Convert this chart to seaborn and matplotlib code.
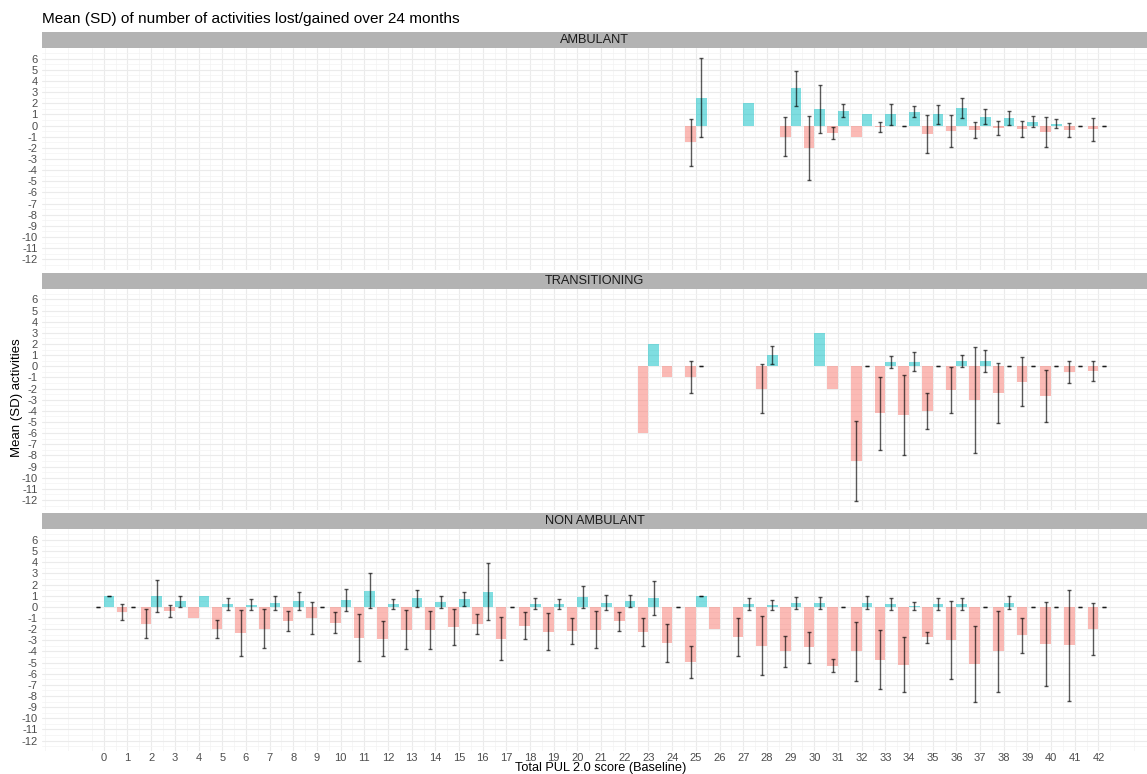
import numpy as np
import pandas as pd
import matplotlib
matplotlib.use("Agg")
import matplotlib.pyplot as plt
import seaborn as sns
from matplotlib.patches import Rectangle
from matplotlib.ticker import FixedLocator

nan = np.nan

groups = ["AMBULANT", "TRANSITIONING", "NON AMBULANT"]

# ---- AMBULANT ----
amb_score = [25, 27, 29, 30, 31, 32, 33, 34, 35, 36, 37, 38, 39, 40, 41, 42]
amb_lost_mean = [-1.5, nan, -1.0, -2.0, -0.67, -1.0, -0.15, 0.0, -0.78, -0.5, -0.38, -0.21, -0.3, -0.6, -0.42, -0.35]
amb_lost_sd = [2.1, nan, 1.75, 2.84, 0.58, nan, 0.43, 0.0, 1.7, 1.45, 0.73, 0.63, 0.72, 1.33, 0.61, 1.06]
amb_gain_mean = [2.5, 2.0, 3.33, 1.5, 1.33, 1.0, 1.0, 1.25, 1.0, 1.58, 0.78, 0.72, 0.36, 0.18, 0.0, 0.0]
amb_gain_sd = [3.55, nan, 1.53, 2.14, 0.6, nan, 0.94, 0.5, 0.82, 0.9, 0.67, 0.63, 0.5, 0.4, 0.0, 0.0]

# ---- TRANSITIONING ----
tra_score = [23, 24, 25, 28, 30, 31, 32, 33, 34, 35, 36, 37, 38, 39, 40, 41, 42]
tra_lost_mean = [-6.0, -1.0, -1.0, -2.0, nan, -2.0, -8.5, -4.21, -4.4, -4.0, -2.15, -3.0, -2.4, -1.4, -2.65, -0.5, -0.4]
tra_lost_sd = [nan, nan, 1.43, 2.17, nan, nan, 3.55, 3.28, 3.6, 1.64, 2.05, 4.76, 2.72, 2.21, 2.31, 1.01, 0.91]
tra_gain_mean = [2.0, nan, 0.0, 1.0, 3.0, nan, 0.0, 0.39, 0.39, 0.0, 0.48, 0.48, 0.0, 0.0, 0.0, 0.0, 0.0]
tra_gain_sd = [nan, nan, 0.0, 0.82, nan, nan, 0.0, 0.57, 0.85, 0.0, 0.57, 1.01, 0.0, 0.0, 0.0, 0.0, 0.0]

# ---- NON AMBULANT ----
non_score = list(range(0, 43))
non_lost_mean = [0.0, -0.48, -1.5, -0.35, -1.0, -2.0, -2.38, -1.97, -1.23, -1.0,
                 -1.41, -2.75, -2.84, -2.04, -2.09, -1.8, -1.53, -2.85, -1.67, -2.24,
                 -2.17, -2.06, -1.31, -2.23, -3.23, -4.98, -2.0, -2.72, -3.47, -4.0,
                 -3.64, -5.28, -4.0, -4.73, -5.18, -2.73, -2.98, -5.13, -3.98, -2.56,
                 -3.35, -3.46, -1.98]
non_lost_sd = [0.0, 0.73, 1.3, 0.52, nan, 0.82, 2.07, 1.75, 0.9, 1.43,
               0.97, 2.1, 1.55, 1.75, 1.7, 1.64, 0.88, 1.9, 1.25, 1.67,
               1.18, 1.66, 0.84, 1.27, 1.72, 1.43, nan, 1.73, 2.61, 1.42,
               1.37, 0.57, 2.67, 2.66, 2.49, 0.52, 3.48, 3.43, 3.63, 1.54,
               3.79, 4.96, 2.33]
non_gain_mean = [1.0, 0.0, 1.0, 0.5, 1.0, 0.27, 0.21, 0.36, 0.53, 0.0,
                 0.6, 1.47, 0.27, 0.76, 0.45, 0.75, 1.35, 0.0, 0.3, 0.24,
                 0.9, 0.39, 0.52, 0.76, 0.0, 1.0, nan, 0.27, 0.18, 0.36,
                 0.36, 0.0, 0.36, 0.27, 0.09, 0.27, 0.27, 0.0, 0.36, 0.0,
                 0.0, 0.0, 0.0]
non_gain_sd = [0.0, 0.0, 1.43, 0.52, nan, 0.52, 0.48, 0.61, 0.79, 0.0,
               0.98, 1.61, 0.48, 0.78, 0.55, 0.63, 2.55, 0.0, 0.51, 0.46,
               1.01, 0.64, 0.54, 1.52, 0.0, 0.0, nan, 0.54, 0.45, 0.52,
               0.52, 0.0, 0.58, 0.52, 0.36, 0.52, 0.52, 0.0, 0.58, 0.0,
               0.0, 0.0, 0.0]

x_ticks = list(range(0, 43))
y_ticks = list(range(-12, 7))

frames = []
for grp, sc, lm, ls, gm, gs in [
    ("AMBULANT", amb_score, amb_lost_mean, amb_lost_sd, amb_gain_mean, amb_gain_sd),
    ("TRANSITIONING", tra_score, tra_lost_mean, tra_lost_sd, tra_gain_mean, tra_gain_sd),
    ("NON AMBULANT", non_score, non_lost_mean, non_lost_sd, non_gain_mean, non_gain_sd),
]:
    frames.append(pd.DataFrame({"group": grp, "score": sc, "direction": "lost", "mean": lm, "sd": ls}))
    frames.append(pd.DataFrame({"group": grp, "score": sc, "direction": "gained", "mean": gm, "sd": gs}))
df = pd.concat(frames, ignore_index=True)

palette = {"lost": "#F8766D", "gained": "#00BFC4"}
offsets = {"lost": -0.225, "gained": 0.225}

sns.set_theme(style="white")
plt.rcParams["font.family"] = ["Liberation Sans", "DejaVu Sans"]
plt.rcParams["axes.unicode_minus"] = False

g = sns.FacetGrid(df, row="group", row_order=groups, sharex=True, sharey=True,
                  height=2.3, aspect=4.9, despine=False)


def draw(data, color=None, **kws):
    ax = plt.gca()
    for direction in ("lost", "gained"):
        d = data[data["direction"] == direction]
        has = d["mean"].notna()
        ax.bar(d.loc[has, "score"] + offsets[direction], d.loc[has, "mean"], width=0.45,
               color=palette[direction], alpha=0.5, linewidth=0, zorder=2)
        e = d[d["sd"].notna()]
        ax.errorbar(e["score"] + offsets[direction], e["mean"], yerr=e["sd"], fmt="none",
                    ecolor="black", alpha=0.65, elinewidth=1.0, capsize=1.6, capthick=1.0, zorder=3)


g.map_dataframe(draw)
g.set_titles("")
g.set_axis_labels("", "")

fig = g.figure
fig.set_size_inches(11.47, 7.74)
fig.set_dpi(100)
H = 774.0
fig.subplots_adjust(left=42 / 1147, right=1.0, top=1 - 48 / H, bottom=1 - 751 / H, hspace=19 / 221.7)

strip_h = 16 / 221.7
for ax, name in zip(g.axes.flat, groups):
    ax.set_xlim(-2.61, 44.05)
    ax.set_ylim(-12.93, 6.96)
    ax.xaxis.set_major_locator(FixedLocator(x_ticks))
    ax.xaxis.set_minor_locator(FixedLocator(np.arange(-2.5, 44.5, 1.0)))
    ax.yaxis.set_major_locator(FixedLocator(y_ticks))
    ax.yaxis.set_minor_locator(FixedLocator(np.arange(-12.5, 7.0, 1.0)))
    ax.grid(True, which="major", color="#EBEBEB", linewidth=0.8, zorder=0)
    ax.grid(True, which="minor", color="#F3F3F3", linewidth=0.5, zorder=0)
    ax.set_axisbelow(True)
    for s in ax.spines.values():
        s.set_visible(False)
    ax.tick_params(axis="both", which="both", length=0, labelsize=8, labelcolor="#4D4D4D")
    ax.tick_params(axis="y", pad=3)
    ax.tick_params(axis="x", pad=1.5)
    ax.set_yticklabels([str(v) for v in y_ticks])
    ax.add_patch(Rectangle((0, 1), 1, strip_h, transform=ax.transAxes, clip_on=False,
                           facecolor="#B3B3B3", edgecolor="none"))
    ax.text(0.5, 1 + strip_h / 2, name, transform=ax.transAxes, ha="center", va="center",
            fontsize=9.2, color="#1A1A1A")

g.axes.flat[-1].set_xticklabels([str(v) for v in x_ticks])

fig.text(42 / 1147, 1 - 19 / H, "Mean (SD) of number of activities lost/gained over 24 months",
         ha="left", va="center", fontsize=11.1, color="black")
fig.text(17 / 1147, 1 - 398 / H, "Mean (SD) activities", rotation=90, ha="center", va="center",
         fontsize=9.5, color="black")
fig.text(601 / 1147, 0.5 / H, "Total PUL 2.0 score (Baseline)", ha="center", va="bottom",
         fontsize=9.2, color="black")

fig.savefig("out.png", dpi=100)
